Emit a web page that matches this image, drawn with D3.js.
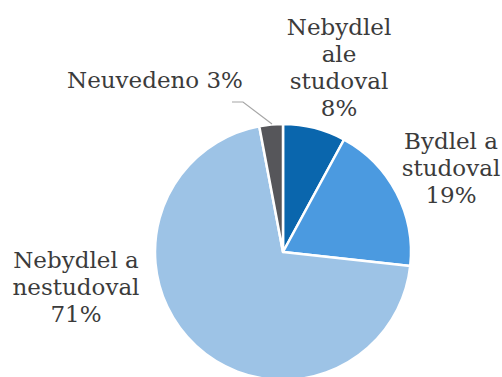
<!DOCTYPE html>
<html>
<head>
<meta charset="utf-8">
<script src="https://cdn.jsdelivr.net/npm/d3@7"></script>
<style>
  body { margin: 0; background: #fff; }
  text { font-family: 'DejaVu Serif', serif; font-size: 23px; fill: #3b3b3b; }
</style>
</head>
<body>
<div id="chart"></div>
<script>
const W = 502;
const H = 377;

// data
const categories = ['Nebydlel ale studoval', 'Bydlel a studoval', 'Nebydlel a nestudoval', 'Neuvedeno'];
const values = [8, 19, 71, 3];
const colors = ['#0a66ad', '#4b9ae0', '#9dc3e6', '#56565a'];

// label lines + anchor points (centre x, first baseline y)
const labelLines = [
  ['Nebydlel', 'ale', 'studoval', '8%'],
  ['Bydlel a', 'studoval', '19%'],
  ['Nebydlel a', 'nestudoval', '71%'],
  ['Neuvedeno 3%']
];
const labelPos = [[339, 35], [451, 149], [76, 268], [155, 88]];
const lineH = 27;

const cx = 283;
const cy = 252;
const radius = 128;

const svg = d3.select('#chart').append('svg')
  .attr('width', W)
  .attr('height', H);

const pie = d3.pie().sort(null).value(d => d);
const arc = d3.arc().innerRadius(0).outerRadius(radius);

const g = svg.append('g')
  .attr('transform', `translate(${cx}, ${cy})`);

g.selectAll('path')
  .data(pie(values))
  .enter().append('path')
  .attr('d', arc)
  .attr('fill', (d, i) => colors[i])
  .attr('stroke', '#fff')
  .attr('stroke-width', 2.5)
  .attr('stroke-linejoin', 'round');

// leader line for small slice
svg.append('polyline')
  .attr('points', '232,102 243,102 272,124')
  .attr('fill', 'none')
  .attr('stroke', '#a6a6a6')
  .attr('stroke-width', 1.2);

const labels = svg.selectAll('.label')
  .data(labelLines)
  .enter().append('text')
  .attr('class', 'label')
  .attr('text-anchor', 'middle')
  .attr('x', (d, i) => labelPos[i][0])
  .attr('y', (d, i) => labelPos[i][1]);

labels.each(function (lines, i) {
  d3.select(this).selectAll('tspan')
    .data(lines)
    .enter().append('tspan')
    .attr('x', labelPos[i][0])
    .attr('y', (l, j) => labelPos[i][1] + j * lineH)
    .text(l => l);
});
</script>
</body>
</html>
